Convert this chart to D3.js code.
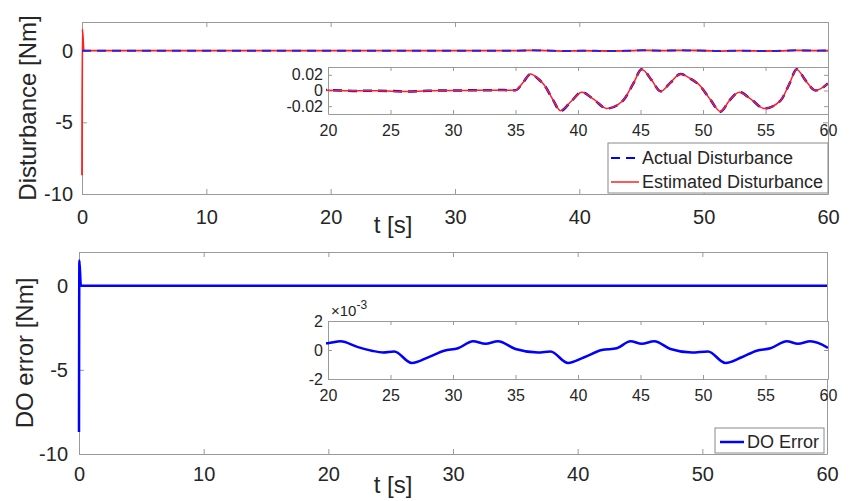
<!DOCTYPE html>
<html>
<head>
<meta charset="utf-8">
<script src="https://d3js.org/d3.v7.min.js"></script>
<style>
body { margin: 0; background: #fff; }
text { font-family: "Liberation Sans", Arial, sans-serif; fill: #262626; }
</style>
</head>
<body>
<svg width="854" height="501"></svg>
<script>
// actual disturbance [Nm]
var distT = [0, 5, 10, 15, 20, 22, 24, 26.3, 28, 30,
  32, 34, 35, 35.6, 36.2, 36.8, 37.3, 38, 38.6, 39.5,
  40.3, 41.3, 42.3, 43.6, 44.4, 45.1, 45.9, 46.6, 47.4, 48.2,
  49.0, 49.7, 50.6, 51.4, 52.1, 52.9, 53.9, 54.9, 56.2, 56.9,
  57.5, 58.2, 59.0, 60];
var distActual = [0, 0.0005, -0.0005, 0.0003, 0.0005, -0.0005, -0.0003, -0.0012, -0.0003, 0,
  0.0003, 0.0005, 0.0003, 0.01, 0.021, 0.015, 0.007, -0.012, -0.026, -0.013,
  -0.002, -0.012, -0.023, -0.013, 0.008, 0.027, 0.013, -0.001, 0.01, 0.021,
  0.015, 0.007, -0.012, -0.027, -0.013, -0.002, -0.012, -0.023, -0.013, 0.008,
  0.027, 0.013, 0, 0.009];

// estimated disturbance [Nm]
var estT = [0, 0.03, 0.15, 0.5, 5, 10, 15, 20, 22, 24, 26.3, 28, 30, 32, 34, 35,
  35.6, 36.2, 36.8, 37.3, 38, 38.6, 39.5,
  40.3, 41.3, 42.3, 43.6, 44.4, 45.1, 45.9, 46.6, 47.4, 48.2,
  49.0, 49.7, 50.6, 51.4, 52.1, 52.9, 53.9, 54.9, 56.2, 56.9,
  57.5, 58.2, 59.0, 60];
var estV = [-8.7, 1.5, 0, 0.0002, 0.0005, -0.0004, 0.0003, 0.0004, -0.0004, -0.0002, -0.0014, -0.0003, 0, 0.0003, 0.0004, 0.0003,
  0.0101, 0.0211, 0.0152, 0.0071, -0.0119, -0.0258, -0.0131,
  -0.0022, -0.0118, -0.0229, -0.0128, 0.0082, 0.0268, 0.0131, -0.0012, 0.0101, 0.0211,
  0.0151, 0.0072, -0.0119, -0.0268, -0.0131, -0.0021, -0.0119, -0.0229, -0.0129, 0.0082,
  0.0269, 0.0129, 0.0002, 0.0089];

// observer error [Nm]
var errT = [0, 0.03, 0.15, 0.5, 5, 10, 15,
  20, 21, 22.4, 23.5, 24.4, 25.3, 26.7, 28.1, 29.3, 30.4,
  31.6, 32.6, 33.6, 35, 36.8, 37.8, 39.2, 40.5, 41.9, 43.1,
  44.2, 45.1, 46.1, 47.4, 49.1, 50.4, 51.8, 53.1, 54.3, 55.4,
  56.7, 57.6, 58.6, 60];
var errV = [-8.7, 1.5, 0, 0.0003, 0.0002, -0.0001, 0.0003,
  0.00047, 0.0006, 0.0002, -0.00005, -0.00017, -0.0001, -0.0009, -0.00047, -0.00005, 0.00012,
  0.0006, 0.00043, 0.0006, 0.00007, -0.00017, -0.0001, -0.0009, -0.0005, 0, 0.00012,
  0.0006, 0.00043, 0.0006, 0.00007, -0.00017, -0.0001, -0.0009, -0.0005, -0.00005, 0.00012,
  0.0006, 0.00043, 0.0006, 0.00015];

var mainXTicks = [0, 10, 20, 30, 40, 50, 60];
var mainYTicks = [-10, -5, 0];
var insetXTicks = [20, 25, 30, 35, 40, 45, 50, 55, 60];
var insetDistTicks = [-0.02, 0, 0.02];
var insetErrTicks = [-0.002, 0, 0.002];

var svg = d3.select("svg");
var grey = "#9a9a9a";
var clipId = 0;

function zip(t, v) {
  return t.map(function(d, i) { return [d, v[i]]; });
}

// one axes box, MATLAB style: ticks inside, box on all sides
function axesBox(o) {
  var g = svg.append("g");
  var x = d3.scaleLinear().domain(o.xDom).range([o.left, o.right]);
  var y = d3.scaleLinear().domain(o.yDom).range([o.bottom, o.top]);
  g.append("rect")
    .attr("x", o.left).attr("y", o.top)
    .attr("width", o.right - o.left).attr("height", o.bottom - o.top)
    .attr("fill", "#fff");
  var id = "clip" + (clipId++);
  // a little slack so lines lying on the frame keep their full width
  g.append("clipPath").attr("id", id).append("rect")
    .attr("x", o.left - 2).attr("y", o.top)
    .attr("width", o.right - o.left + 2).attr("height", o.bottom - o.top);

  var fmtY = o.yFmt || function(d) { return d; };
  var axes = [
    g.append("g").attr("transform", "translate(0," + o.bottom + ")")
      .call(d3.axisBottom(x).tickValues(o.xTicks).tickSizeInner(-o.tick).tickSizeOuter(0).tickPadding(o.xPad)),
    g.append("g").attr("transform", "translate(0," + o.top + ")")
      .call(d3.axisTop(x).tickValues(o.xTicks).tickSizeInner(-o.tick).tickSizeOuter(0).tickFormat("")),
    g.append("g").attr("transform", "translate(" + o.left + ",0)")
      .call(d3.axisLeft(y).tickValues(o.yTicks).tickSizeInner(-o.tick).tickSizeOuter(0).tickPadding(o.yPad).tickFormat(fmtY)),
    g.append("g").attr("transform", "translate(" + o.right + ",0)")
      .call(d3.axisRight(y).tickValues(o.yTicks).tickSizeInner(-o.tick).tickSizeOuter(0).tickFormat(""))
  ];
  axes.forEach(function(a) {
    a.select(".domain").attr("stroke", grey);
    a.selectAll(".tick line").attr("stroke", grey);
    a.selectAll("text")
      .attr("fill", "#262626")
      .style("font-size", o.font + "px")
      .style("font-family", "'Liberation Sans', Arial, sans-serif");
  });
  // data sits above the frame
  var plot = g.append("g").attr("clip-path", "url(#" + id + ")");
  return { g: g, plot: plot, x: x, y: y };
}

function drawLine(ax, data, color, width, dash) {
  var line = d3.line()
    .x(function(d) { return ax.x(d[0]); })
    .y(function(d) { return ax.y(d[1]); })
    .curve(d3.curveMonotoneX);
  ax.plot.append("path")
    .datum(data)
    .attr("d", line)
    .attr("fill", "none")
    .attr("stroke", color)
    .attr("stroke-width", width)
    .attr("stroke-dasharray", dash || null);
}

// ---------- top panel ----------
var top1 = axesBox({ left: 82, right: 828, top: 22, bottom: 194,
  xDom: [0, 60], yDom: [-10, 2], xTicks: mainXTicks, yTicks: mainYTicks,
  tick: 5, font: 20, xPad: 16, yPad: 9 });
drawLine(top1, zip(estT, estV), "#ff2020", 1.8);
drawLine(top1, zip(distT, distActual), "#3a1cd0", 2, "9,6");

var ins1 = axesBox({ left: 328, right: 828, top: 67, bottom: 114,
  xDom: [20, 60], yDom: [-0.03, 0.03], xTicks: insetXTicks, yTicks: insetDistTicks,
  tick: 4, font: 16, xPad: 11, yPad: 5 });
drawLine(ins1, zip(distT, distActual), "#0000ff", 2.5, "9,6");
drawLine(ins1, zip(estT, estV), "#ff2020", 1.5);

// legend
var lg1 = svg.append("g");
lg1.append("rect").attr("x", 608).attr("y", 143).attr("width", 220).attr("height", 50)
  .attr("fill", "#fff").attr("stroke", "#8a8a8a");
lg1.append("line").attr("x1", 611).attr("x2", 639).attr("y1", 158).attr("y2", 158)
  .attr("stroke", "#0000ff").attr("stroke-width", 2).attr("stroke-dasharray", "9,6");
lg1.append("line").attr("x1", 611).attr("x2", 639).attr("y1", 182).attr("y2", 182)
  .attr("stroke", "#ff2020").attr("stroke-width", 1.5);
lg1.append("text").attr("x", 642).attr("y", 164).style("font-size", "18px").text("Actual Disturbance");
lg1.append("text").attr("x", 642).attr("y", 188).style("font-size", "18px").text("Estimated Disturbance");

svg.append("text").attr("x", 393).attr("y", 233).attr("text-anchor", "middle")
  .style("font-size", "24px").text("t [s]");
svg.append("text").attr("transform", "translate(36,108) rotate(-90)").attr("text-anchor", "middle")
  .style("font-size", "24px").text("Disturbance [Nm]");

// ---------- bottom panel ----------
var bot = axesBox({ left: 79, right: 827, top: 252, bottom: 454,
  xDom: [0, 60], yDom: [-10, 2], xTicks: mainXTicks, yTicks: mainYTicks,
  tick: 5, font: 20, xPad: 13, yPad: 11 });
drawLine(bot, zip(errT, errV), "#0000ff", 2.5);

var ins2 = axesBox({ left: 328, right: 828, top: 321, bottom: 379,
  xDom: [20, 60], yDom: [-0.002, 0.002], xTicks: insetXTicks, yTicks: insetErrTicks,
  tick: 4, font: 16, xPad: 11, yPad: 5,
  yFmt: function(d) { return Math.round(d * 1000); } });
drawLine(ins2, zip(errT, errV), "#0000ff", 2.5);

var ex = svg.append("text").attr("x", 331).attr("y", 316).style("font-size", "15px");
ex.append("tspan").text("\u00d710");
ex.append("tspan").attr("dy", -7).style("font-size", "12px").text("-3");

var lg2 = svg.append("g");
lg2.append("rect").attr("x", 715).attr("y", 428).attr("width", 109).attr("height", 25)
  .attr("fill", "#fff").attr("stroke", "#8a8a8a");
lg2.append("line").attr("x1", 720).attr("x2", 744).attr("y1", 442).attr("y2", 442)
  .attr("stroke", "#0000ff").attr("stroke-width", 2.5);
lg2.append("text").attr("x", 747).attr("y", 448).style("font-size", "18px").text("DO Error");

svg.append("text").attr("x", 393).attr("y", 493).attr("text-anchor", "middle")
  .style("font-size", "24px").text("t [s]");
svg.append("text").attr("transform", "translate(33,353) rotate(-90)").attr("text-anchor", "middle")
  .style("font-size", "24px").text("DO error [Nm]");
</script>
</body>
</html>
